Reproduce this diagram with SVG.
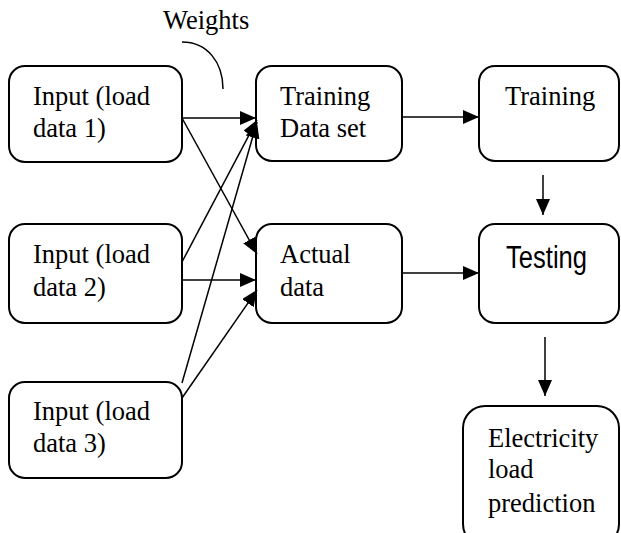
<svg xmlns="http://www.w3.org/2000/svg" width="621" height="533" viewBox="0 0 621 533">
  <style>
    .box { fill: #fff; stroke: #000; stroke-width: 2; }
    .lbl { font-family: "Liberation Serif", "Times New Roman", serif; font-size: 26.5px; fill: #000; }
    .sans { font-family: "Liberation Sans", Arial, sans-serif; font-size: 31px; fill: #000; }
    .edge { stroke: #000; stroke-width: 1.5; fill: none; }
  </style>
  <defs>
    <marker id="arrow" markerUnits="userSpaceOnUse" markerWidth="17" markerHeight="15" refX="16" refY="7" orient="auto">
      <path d="M0,0 L16,7 L0,14 z" fill="#000"/>
    </marker>
  </defs>

  <!-- label with its curved pointer -->
  <text class="lbl" x="163" y="29">Weights</text>
  <path class="edge" stroke-width="2" d="M182,42 C207,42 223,62 223,89"/>

  <g id="input1">
    <rect class="box" x="9" y="66" width="173" height="96" rx="16"/>
    <text class="lbl" x="33" y="105">Input (load</text>
    <text class="lbl" x="33" y="137">data 1)</text>
  </g>
  <g id="input2">
    <rect class="box" x="9" y="224" width="173" height="99" rx="16"/>
    <text class="lbl" x="33" y="263">Input (load</text>
    <text class="lbl" x="33" y="296">data 2)</text>
  </g>
  <g id="input3">
    <rect class="box" x="9" y="382" width="173" height="96" rx="16"/>
    <text class="lbl" x="33" y="420">Input (load</text>
    <text class="lbl" x="33" y="452">data 3)</text>
  </g>
  <g id="training-data">
    <rect class="box" x="256" y="66" width="146" height="95" rx="16"/>
    <text class="lbl" x="280" y="105">Training</text>
    <text class="lbl" x="280" y="137">Data set</text>
  </g>
  <g id="actual-data">
    <rect class="box" x="256" y="224" width="146" height="99" rx="16"/>
    <text class="lbl" x="280" y="263">Actual</text>
    <text class="lbl" x="280" y="296">data</text>
  </g>
  <g id="training">
    <rect class="box" x="479" y="66" width="140" height="95" rx="16"/>
    <text class="lbl" x="505" y="105">Training</text>
  </g>
  <g id="testing">
    <rect class="box" x="479" y="224" width="140" height="99" rx="16"/>
    <text class="sans" x="506" y="268" textLength="81" lengthAdjust="spacingAndGlyphs">Testing</text>
  </g>
  <g id="prediction">
    <rect class="box" x="463" y="406" width="156" height="140" rx="22"/>
    <text class="lbl" x="488" y="447">Electricity</text>
    <text class="lbl" x="488" y="478">load</text>
    <text class="lbl" x="488" y="512">prediction</text>
  </g>

  <g id="connectors">
    <line class="edge" x1="182" y1="118" x2="256" y2="118" marker-end="url(#arrow)"/>
    <line class="edge" x1="182" y1="118" x2="257" y2="254" marker-end="url(#arrow)"/>
    <line class="edge" x1="182" y1="262" x2="257" y2="120" marker-end="url(#arrow)"/>
    <line class="edge" x1="182" y1="280" x2="256" y2="280" stroke-width="2.2" marker-end="url(#arrow)"/>
    <line class="edge" x1="182" y1="383" x2="257" y2="122" marker-end="url(#arrow)"/>
    <line class="edge" x1="182" y1="398" x2="257" y2="290" marker-end="url(#arrow)"/>
    <line class="edge" x1="402" y1="117" x2="479" y2="117" marker-end="url(#arrow)"/>
    <line class="edge" x1="402" y1="273" x2="479" y2="273" marker-end="url(#arrow)"/>
    <line class="edge" x1="543" y1="175" x2="543" y2="215" marker-end="url(#arrow)"/>
    <line class="edge" x1="545" y1="337" x2="545" y2="396" marker-end="url(#arrow)"/>
  </g>
</svg>
